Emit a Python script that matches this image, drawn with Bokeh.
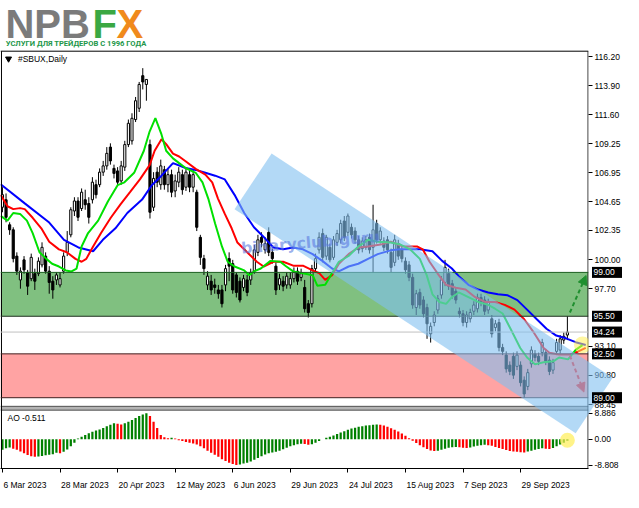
from bokeh.plotting import figure
from bokeh.models import Range1d, FixedTicker, Span, Arrow, NormalHead, LinearAxis
from bokeh.embed import file_html
from bokeh.resources import INLINE
from bokeh.core.properties import value

# ---------------- data ----------------
date_idx = [0, 16, 32, 48, 64, 80, 96, 112, 128, 144]
date_lbl = ["6 Mar 2023", "28 Mar 2023", "20 Apr 2023", "12 May 2023", "6 Jun 2023",
            "29 Jun 2023", "24 Jul 2023", "15 Aug 2023", "7 Sep 2023", "29 Sep 2023"]

opens = [104.2,104.8,102.8,102.4,100.3,98.4,100.0,99.0,98.5,98.9,
         98.9,99.6,100.3,99.1,98.3,98.4,98.0,99.1,100.6,102.0,
         103.9,104.7,104.1,104.8,104.5,104.8,106.0,106.0,107.0,107.5,
         109.0,107.3,107.1,106.3,107.4,109.2,109.5,111.2,112.1,114.7,
         114.0,109.2,104.2,107.0,106.0,107.2,106.0,106.8,105.5,106.2,
         106.8,105.8,106.8,105.8,105.4,101.8,100.1,98.0,98.3,98.0,
         97.6,97.6,98.0,100.1,99.7,98.8,98.3,97.8,98.4,98.4,
         99.1,100.6,101.8,100.8,102.2,100.6,99.5,98.0,98.3,98.0,
         98.0,98.5,99.1,98.6,97.8,96.5,96.5,99.3,100.8,102.1,
         100.3,101.0,100.2,101.4,101.6,103.1,102.2,102.6,102.3,101.6,
         100.9,101.0,101.8,101.0,102.9,101.6,101.5,101.6,100.6,99.8,
         101.3,100.8,99.9,99.6,98.6,96.2,97.4,96.8,96.2,94.1,
         95.0,96.0,97.2,98.2,98.9,98.1,97.5,95.9,95.7,95.0,
         95.3,95.9,96.1,97.0,96.8,96.0,95.3,94.6,95.0,93.0,
         92.4,91.6,92.3,91.5,91.6,90.4,89.9,91.7,92.5,92.3,
         92.6,92.6,92.0,91.2,92.7,92.8,93.6,94.0]
highs = [105.8,105.3,103.0,102.6,100.6,99.4,100.3,99.2,100.5,99.3,
         100.2,101.4,100.6,99.5,98.7,99.0,99.0,100.6,102.3,104.2,
         105.0,105.0,105.7,105.6,105.0,106.6,106.4,107.3,107.9,109.0,
         109.3,107.6,107.4,107.9,109.5,111.2,111.7,113.0,114.2,115.3,
         114.4,109.6,107.0,107.4,108.0,107.5,107.3,107.2,106.8,107.4,
         107.2,107.4,107.3,107.2,105.6,102.0,100.4,99.1,98.8,98.5,
         98.0,98.0,99.6,100.6,100.0,99.0,98.6,98.8,98.8,99.3,
         101.2,102.0,102.2,101.8,102.6,100.9,99.8,98.9,98.7,99.0,
         99.0,99.4,99.4,99.3,98.4,96.8,99.6,100.5,102.2,102.5,
         102.0,101.3,101.9,102.4,103.2,103.5,103.7,102.9,102.6,101.9,
         101.8,101.9,102.1,104.4,103.2,102.6,101.8,101.9,100.9,102.0,
         101.6,101.1,100.2,99.9,98.9,97.6,97.7,97.1,96.5,95.0,
         95.9,97.2,98.7,100.0,99.3,98.4,97.8,96.2,96.0,95.9,
         96.1,96.7,97.3,97.3,97.1,96.9,95.6,95.2,95.3,93.3,
         92.7,91.9,92.6,92.7,91.9,90.7,91.3,93.1,92.8,92.6,
         93.7,92.9,92.3,92.1,93.7,94.0,94.2,95.5]
lows = [103.8,103.0,102.0,99.8,98.8,97.7,98.9,97.2,98.3,97.6,
        98.7,99.4,98.9,97.3,96.9,98.0,97.8,98.9,100.3,101.8,
        103.5,103.1,103.9,104.0,102.9,104.5,104.9,105.8,106.7,107.2,
        107.6,106.5,105.9,106.0,107.1,109.0,109.2,111.0,111.8,113.6,
        112.7,103.3,103.9,105.8,105.6,105.6,105.4,105.0,105.0,105.8,
        105.2,105.5,105.4,105.4,102.3,99.6,98.8,97.6,97.2,97.3,
        96.9,96.2,97.5,98.3,97.3,97.0,96.6,97.5,97.1,98.0,
        98.9,100.3,101.0,100.5,100.3,99.7,97.2,97.6,97.5,97.7,
        97.7,98.2,98.0,98.3,95.8,95.4,96.2,99.0,100.5,99.8,
        100.0,99.8,100.0,101.1,101.3,101.5,101.9,101.7,101.3,100.5,
        100.6,100.8,100.5,99.0,101.3,101.3,100.7,100.5,99.0,99.5,
        100.0,99.8,98.9,98.3,96.1,95.6,96.1,95.4,93.7,93.4,
        94.7,95.7,96.9,97.9,97.6,96.9,96.5,95.4,94.7,94.6,
        95.0,95.6,95.8,96.3,95.6,95.7,93.8,94.3,92.7,92.4,
        91.0,90.8,90.5,91.2,89.9,89.0,89.6,91.4,91.9,91.6,
        92.3,91.6,90.8,90.9,92.4,92.5,93.3,93.6]
closes = [105.2,103.4,102.4,100.1,99.1,99.1,99.2,97.9,100.2,98.3,
          99.9,101.0,99.1,98.2,97.6,98.8,98.5,100.3,101.4,104.0,
          104.7,103.4,105.4,104.4,103.4,106.2,105.2,107.0,107.5,108.5,
          107.9,106.9,106.2,107.5,109.2,110.9,111.3,112.7,114.0,114.2,
          114.4,103.8,106.5,106.2,107.5,106.0,106.8,105.4,106.3,107.0,
          105.6,107.0,105.8,106.8,102.6,100.2,99.3,98.7,97.6,97.8,
          97.3,96.5,99.3,99.5,97.6,97.4,96.8,98.5,97.4,99.0,
          100.8,101.6,101.4,101.3,100.6,100.1,97.6,98.5,97.9,98.7,
          98.5,99.0,98.3,98.9,96.1,95.8,99.3,100.1,101.8,100.2,
          101.8,100.0,101.6,102.1,102.9,101.8,103.5,102.0,101.6,100.8,
          101.5,101.6,100.8,102.4,101.6,102.3,101.0,100.8,99.4,101.6,
          100.3,100.1,99.2,98.6,96.4,97.3,96.4,95.7,94.9,94.7,
          95.6,96.9,98.4,99.4,97.9,97.2,96.8,95.7,95.0,95.6,
          95.8,96.4,97.0,96.6,95.9,96.6,94.1,94.9,93.0,92.7,
          91.3,91.1,90.8,92.4,90.2,89.3,91.0,92.8,92.2,91.9,
          93.4,91.9,91.1,91.8,93.4,93.7,93.9,94.24]

# Alligator lines (bar index, price)
jaw_x = [-0.5,6.2,13.0,17.1,21.1,25.2,27.9,31.4,34.7,38.8,41.5,44.2,47.4,50.9,53.7,56.4,59.1,61.8,64.5,67.2,
         69.9,72.6,75.3,78.0,80.8,83.5,86.2,88.9,91.6,93.5,96.2,98.9,101.6,104.3,107.9,110.6,116.0,119.5,122.2,124.9,
         126.8,129.5,132.2,135.0,137.7,140.4,143.1,145.8,148.5,151.2,153.9,156.6,159.3,162.1]
jaw_y = [106.04,104.51,102.98,101.60,100.99,100.69,101.60,102.52,103.74,104.81,105.96,106.72,107.72,107.33,107.18,106.95,106.72,106.42,105.19,103.74,
         102.60,101.83,100.99,100.84,100.99,100.84,100.46,99.92,99.31,99.08,99.47,99.69,100.08,100.46,100.76,100.84,100.84,100.69,99.92,99.31,
         98.70,98.01,97.63,97.40,97.25,97.17,96.79,96.03,95.26,94.50,93.96,93.74,93.43,93.20]
teeth_x = [-0.5,1.4,3.0,4.9,6.2,8.4,10.8,13.0,15.7,17.9,20.3,22.0,23.3,25.2,27.4,30.1,32.8,35.5,38.2,40.9,
           42.3,44.2,45.5,47.4,49.1,50.9,53.7,56.4,58.3,59.9,61.8,63.7,65.3,68.0,70.7,72.6,75.3,78.0,80.8,83.5,
           86.2,88.1,89.7,91.6,93.5,96.2,98.9,101.6,105.1,107.9,111.4,115.2,116.8,118.7,120.9,123.3,126.0,128.7,131.4,134.1,
           136.9,139.6,142.3,145.0,147.7,150.4,152.0,154.7,157.5,159.9,162.1]
teeth_y = [105.19,104.28,104.05,104.13,104.05,103.36,102.52,101.45,100.84,100.61,100.08,99.85,100.08,101.07,102.14,103.36,104.43,105.42,106.42,107.56,
           108.71,109.63,109.24,108.48,108.25,107.87,107.26,106.80,106.19,104.89,103.67,102.52,101.38,100.61,99.85,99.47,99.85,99.85,99.54,99.54,
           99.16,98.93,98.40,98.78,99.69,100.46,100.99,101.07,101.22,101.45,101.07,101.07,100.84,99.85,98.93,98.01,97.78,97.63,97.02,96.64,
           96.64,96.41,96.03,95.26,94.19,92.97,92.59,92.44,92.44,92.67,92.97]
lips_x = [-0.5,1.4,3.0,4.9,6.8,8.4,10.3,12.2,13.8,15.7,17.6,19.2,20.6,22.0,23.8,26.6,29.3,32.0,33.9,36.6,
          39.3,40.9,42.5,44.2,45.5,47.4,49.1,50.9,53.7,55.6,57.2,59.1,61.0,62.6,64.5,67.2,68.6,69.9,71.8,74.5,
          77.2,78.9,80.8,83.5,86.2,87.5,89.7,91.6,93.5,96.2,98.9,101.6,104.3,107.9,110.6,113.3,116.0,117.9,119.5,121.4,
          123.3,124.9,126.8,129.5,132.2,135.0,136.9,139.0,141.2,143.9,145.8,148.0,150.4,153.1,154.7,157.2,159.3,161.2]
lips_y = [103.51,103.13,103.74,103.67,103.13,102.14,100.61,100.08,99.69,99.47,99.16,99.08,99.31,101.07,102.14,103.13,104.66,105.96,106.19,106.95,
          108.71,110.24,111.31,110.01,108.71,108.10,107.72,107.33,106.95,106.19,104.89,102.90,101.07,99.85,99.47,99.16,98.78,99.08,99.31,99.92,
          99.85,99.47,99.08,98.93,98.78,97.94,98.01,98.93,99.85,100.31,101.07,101.60,101.45,101.38,101.22,100.84,100.08,98.78,97.25,96.64,
          96.49,97.02,97.40,97.02,96.64,96.41,96.10,95.72,94.50,92.97,92.21,91.67,91.83,91.90,92.21,92.06,92.82,93.20]

# Awesome Oscillator
ao = [-3.6,-3.1,-2.8,-3.2,-3.6,-4.2,-4.8,-5.4,-5.8,-6.0,
      -5.9,-5.7,-5.5,-5.3,-5.1,-4.6,-4.8,-4.3,-3.5,-2.4,
      -1.2,0.3,0.9,1.5,2.1,2.6,3.0,3.4,3.9,4.5,
      5.0,5.5,5.3,5.1,5.5,6.0,6.6,7.3,8.0,8.5,
      8.886,8.0,6.0,3.9,1.5,0.7,0.4,0.5,0.3,-0.3,
      -0.6,-0.9,-1.2,-1.4,-1.8,-2.4,-3.1,-3.9,-4.6,-5.3,
      -6.0,-6.8,-7.4,-8.0,-8.5,-8.808,-8.6,-8.3,-8.0,-7.6,
      -7.0,-6.4,-5.8,-5.2,-4.8,-4.5,-4.3,-3.9,-3.4,-2.9,
      -2.4,-2.0,-1.7,-1.5,-1.6,-1.9,-1.7,-1.2,-0.6,0.0,
      0.5,0.9,1.3,1.8,2.3,2.8,3.3,3.7,4.0,4.3,
      4.5,4.7,4.8,5.0,5.1,5.0,4.7,4.3,3.8,3.3,
      2.7,2.0,1.2,0.4,-0.5,-1.3,-2.0,-2.7,-3.3,-3.8,
      -4.0,-3.9,-3.6,-3.2,-2.9,-2.7,-2.6,-2.7,-2.9,-3.0,
      -2.8,-2.5,-2.2,-2.0,-1.9,-2.0,-2.2,-2.6,-3.0,-3.3,
      -3.7,-4.0,-4.2,-4.3,-4.4,-4.5,-4.2,-3.9,-3.6,-3.3,
      -3.1,-3.2,-3.3,-3.0,-2.4,-1.8,-1.2,-0.511]
ao_before = -4.0
ao_ticks = [8.886, 0.0, -8.808]
ao_tick_lbl = ["8.886", "0.00", "-8.808"]

price_ticks = [116.20, 113.90, 111.60, 109.25, 106.95, 104.65, 102.35, 100.00, 97.70, 93.10, 90.80, 88.45]
green_zone = (95.50, 99.00)
red_zone = (89.00, 92.50)
last_price = 94.24
marked_levels = [99.00, 95.50, 94.24, 92.50, 89.00]

# drawings (bar index, price)
channel_x = [74.8, 169.6, 159.3, 64.5]
channel_y = [108.48, 90.60, 86.17, 104.05]
up_arrow = (157.7, 95.8, 162.2, 98.75)
down_arrow = (157.7, 92.36, 161.6, 89.45)

# ---------------- figure ----------------
X0, X1 = -0.54, 162.87
Y0, Y1 = 83.35, 120.70
AO0, AO1 = -10.0, 150.3
FONT = "Liberation Sans"
FS = "8.5px"
PLOT_W = 588                       # frame width in px
PX_PER_BAR = PLOT_W / (X1 - X0)

p = figure(width=623, height=492, output_backend="svg", toolbar_location=None,
           x_range=Range1d(X0, X1), y_range=Range1d(Y0, Y1), y_axis_location="right",
           min_border_left=0, min_border_top=0, min_border_bottom=18, min_border_right=35)
p.extra_y_ranges = {"ao": Range1d(AO0, AO1)}
p.grid.visible = False
p.outline_line_color = None
p.background_fill_color = "white"

# zones
p.quad(left=X0, right=X1, bottom=green_zone[0], top=green_zone[1], fill_color="#80c080", line_color=None)
p.quad(left=X0, right=X1, bottom=red_zone[0], top=red_zone[1], fill_color="#ffa3a3", line_color=None)
for lv, col in [(green_zone[1], "#1b5e20"), (green_zone[0], "#203020"), (red_zone[1], "#402020"), (red_zone[0], "#402020")]:
    p.add_layout(Span(location=lv, dimension="width", line_color=col, line_width=1))
p.add_layout(Span(location=last_price, dimension="width", line_color="#c0c0c0", line_width=1))

# candles
idx = list(range(len(closes)))
p.segment(x0=idx, y0=lows, x1=idx, y1=highs, line_color="black", line_width=1)
tops = [max(o, c) for o, c in zip(opens, closes)]
bots = [min(o, c) for o, c in zip(opens, closes)]
fills = ["white" if c >= o else "black" for o, c in zip(opens, closes)]
p.vbar(x=idx, width=0.6, top=tops, bottom=bots, fill_color=fills, line_color="black", line_width=1)

# alligator
p.line(jaw_x, jaw_y, line_color="#0000ff", line_width=2)
p.line(teeth_x, teeth_y, line_color="#ff0000", line_width=2)
p.line(lips_x, lips_y, line_color="#00e000", line_width=2)

# AO
ao_prev = [ao_before] + ao[:-1]
ao_col = ["#008000" if a > b else "#ff0000" for a, b in zip(ao, ao_prev)]
p.vbar(x=idx, width=0.62, top=ao, bottom=0, fill_color=ao_col, line_color=None, y_range_name="ao")

# panel separator and frames
sep_top = 100 - (424 - 271) / 13.09
sep_bot = 100 - (428 - 271) / 13.09
frame_top = 100 + (271 - 53) / 13.09
p.quad(left=X0, right=X1, bottom=sep_bot, top=sep_top, fill_color="#b4b4b4", line_color=None)
p.segment(x0=[X0, X0], y0=[sep_top, sep_bot], x1=[X1, X1], y1=[sep_top, sep_bot], line_color="#505050", line_width=1)
p.segment(x0=[X0, -0.27, X1 - 0.12], y0=[frame_top, Y0, Y0], x1=[X1, -0.27, X1 - 0.12], y1=[frame_top, frame_top, frame_top],
          line_color="black", line_width=1)

# texts in panels
p.scatter(x=[1.7], y=[116.05], marker="inverted_triangle", size=6, fill_color="black", line_color="black")
p.text(x=[4.3], y=[116.05], text=["#SBUX,Daily"], text_font=value(FONT), text_font_size=FS,
       text_baseline="middle", text_color="black")
p.text(x=[1.4], y=[7.4], text=["AO -0.511"], text_font=value(FONT), text_font_size=FS,
       text_baseline="middle", text_color="black", y_range_name="ao")

# logo
LOGO_Y = 118.82
p.text(x=[0.82], y=[LOGO_Y], text=["NPB"], text_font=value(FONT), text_font_size="40px",
       text_font_style="bold", text_color="#7b7b7b", text_baseline="middle")
p.text(x=[25.0], y=[LOGO_Y], text=["F"], text_font=value(FONT), text_font_size="40px",
       text_font_style="bold", text_color="#3aa843", text_baseline="middle")
p.text(x=[31.7], y=[LOGO_Y], text=["X"], text_font=value(FONT), text_font_size="40px",
       text_font_style="bold", text_color="#f08a1c", text_baseline="middle")
p.text(x=[0.9], y=[117.30], text=["УСЛУГИ ДЛЯ ТРЕЙДЕРОВ С 1996 ГОДА"], text_font=value("Roboto"),
       text_font_size="7.6px", text_font_style="bold", text_color="#23974a", text_baseline="middle")

# translucent drawings (drawn on top)
p.patch(channel_x, channel_y, fill_color="#80c0f0", fill_alpha=0.6, line_color=None, level="overlay")
p.text(x=[66.4], y=[100.9], text=["binaryclub.guru"], angle=0.085, text_font=value("DejaVu Sans"),
       text_font_size="15.5px", text_font_style="bold", text_color="#5a7ae0", text_alpha=0.6,
       text_baseline="middle", level="overlay")
p.scatter(x=[161.2], y=[93.2], size=17, fill_color="#ffee55", fill_alpha=0.55, line_color=None)
p.scatter(x=[157], y=[-0.3], size=15, fill_color="#ffee55", fill_alpha=0.7, line_color=None, y_range_name="ao")

p.add_layout(Arrow(x_start=up_arrow[0], y_start=up_arrow[1], x_end=up_arrow[2], y_end=up_arrow[3],
                   line_color="#1f8f2f", line_width=2, line_dash="4 3",
                   end=NormalHead(size=9, fill_color="#1f8f2f", line_color="#1f8f2f")))
p.add_layout(Arrow(x_start=down_arrow[0], y_start=down_arrow[1], x_end=down_arrow[2], y_end=down_arrow[3],
                   line_color="#ff2020", line_width=2, line_dash="4 3",
                   end=NormalHead(size=9, fill_color="#ff2020", line_color="#ff2020")))

# marked price levels on the scale (black boxes)
box_x = X1 + 18.5 / PX_PER_BAR
p.rect(x=[box_x] * len(marked_levels), y=marked_levels, width=30, height=11, width_units="screen",
       height_units="screen", fill_color="black", line_color=None, level="overlay")
p.text(x=[X1] * len(marked_levels), y=marked_levels, text=["%.2f" % v for v in marked_levels], x_offset=5,
       text_font=value(FONT), text_font_size=FS, text_color="white", text_baseline="middle",
       text_align="left", level="overlay")

# right price axis
ya = p.yaxis[0]
ao_pos = [Y0 + (v - AO0) * (Y1 - Y0) / (AO1 - AO0) for v in ao_ticks]
ya.ticker = FixedTicker(ticks=price_ticks + ao_pos)
ov = {t: "%.2f" % t for t in price_ticks}
for t, l in zip(ao_pos, ao_tick_lbl):
    ov[t] = l
ya.major_label_overrides = ov
ya.axis_line_color = None
ya.major_tick_in = 0
ya.major_tick_out = 4
ya.minor_tick_line_color = None
ya.major_label_standoff = 2
ya.major_label_text_font = FONT
ya.major_label_text_font_size = FS
ya.major_label_text_color = "black"

# date axis: tick marks on the first axis, left-aligned labels on a second one
xa = p.xaxis[0]
xa.ticker = FixedTicker(ticks=date_idx)
xa.major_label_overrides = {i: "" for i in date_idx}
xa.major_label_text_font_size = "1px"
xa.major_label_standoff = 0
xa.axis_line_color = "black"
xa.major_tick_in = 0
xa.major_tick_out = 4
xa.minor_tick_line_color = None

CW = {" ": 0.278, "M": 0.833, "a": 0.556, "r": 0.333, "A": 0.667, "p": 0.556, "y": 0.5, "J": 0.5,
      "u": 0.556, "n": 0.556, "l": 0.222, "g": 0.556, "S": 0.667, "e": 0.556}
def label_w(s):
    return sum(CW.get(ch, 0.556) for ch in s) * 8.5
lbl_pos = [i + (label_w(s) / 2 + 1) / PX_PER_BAR for i, s in zip(date_idx, date_lbl)]
xa2 = LinearAxis(ticker=FixedTicker(ticks=lbl_pos),
                 major_label_overrides={t: s for t, s in zip(lbl_pos, date_lbl)},
                 axis_line_color=None, major_tick_line_color=None, minor_tick_line_color=None,
                 major_label_standoff=1, major_label_text_font=FONT, major_label_text_font_size=FS,
                 major_label_text_color="black")
p.add_layout(xa2, "below")

open("out.html", "w").write(file_html(p, INLINE))
